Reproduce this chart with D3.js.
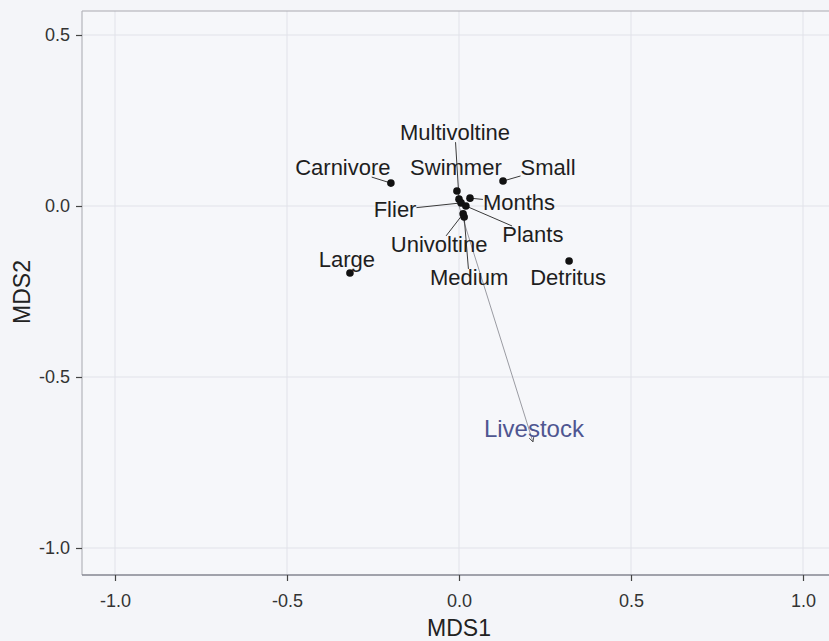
<!DOCTYPE html>
<html>
<head>
<meta charset="utf-8">
<script src="https://cdn.jsdelivr.net/npm/d3@7"></script>
<style>
  html, body { margin: 0; padding: 0; background: #f4f5f9; }
  svg { display: block; font-family: "Liberation Sans", Arial, sans-serif; }
</style>
</head>
<body>
<svg id="chart" width="829" height="641"></svg>
<script>
// NMDS species-trait scores
const traits = ["Multivoltine", "Carnivore", "Swimmer", "Small", "Months", "Flier",
                "Plants", "Univoltine", "Large", "Medium", "Detritus"];
const mds1 = [0.000, -0.198, -0.006, 0.128, 0.032, 0.006, 0.020, 0.012, -0.317, 0.015, 0.320];
const mds2 = [0.020, 0.067, 0.044, 0.073, 0.023, 0.009, 0.000, -0.023, -0.196, -0.032, -0.161];

// Environmental vector
const envName = ["Livestock"];
const envMds1 = [0.215];
const envMds2 = [-0.690];

// Tick values
const xTicks = [-1.0, -0.5, 0.0, 0.5, 1.0];
const yTicks = [0.5, 0.0, -0.5, -1.0];

// Repelled label placement (pixel offsets from each point) and leader-line flags
const labelDx = [-4, -48, -1, 45, 49, -66, 67, -24, -3, 5, -1];
const labelDy = [-59, -8, -16, -6, 12, 14, 36, 38, -6, 68, 24];
const hasLeader = [true, true, false, true, true, true, true, true, false, true, false];

const svg = d3.select("#chart");
const fmt = d => d.toFixed(1);

const x = d3.scaleLinear().domain([-1, 1]).range([115, 803]);
const y = d3.scaleLinear().domain([-1, 0.5]).range([548, 35]);

const panel = { left: 82, top: 11, bottom: 575, right: 845 };

// panel background
svg.append("rect")
  .attr("x", panel.left).attr("y", panel.top)
  .attr("width", panel.right - panel.left).attr("height", panel.bottom - panel.top)
  .attr("fill", "#f6f7fa");

// grid
const grid = svg.append("g").attr("stroke", "#e1e2e9").attr("stroke-width", 1);
grid.selectAll("line.vx").data(xTicks).join("line").attr("class", "vx")
  .attr("x1", d => x(d)).attr("x2", d => x(d))
  .attr("y1", panel.top).attr("y2", panel.bottom);
grid.selectAll("line.hy").data(yTicks).join("line").attr("class", "hy")
  .attr("y1", d => y(d)).attr("y2", d => y(d))
  .attr("x1", panel.left).attr("x2", panel.right);

// panel border
svg.append("line").attr("x1", panel.left).attr("x2", panel.right)
  .attr("y1", panel.top).attr("y2", panel.top).attr("stroke", "#a9aab0").attr("stroke-width", 1.2);
svg.append("line").attr("x1", panel.left).attr("x2", panel.left)
  .attr("y1", panel.top).attr("y2", panel.bottom).attr("stroke", "#b4b5bb").attr("stroke-width", 1.2);
svg.append("line").attr("x1", panel.left).attr("x2", panel.right)
  .attr("y1", panel.bottom).attr("y2", panel.bottom).attr("stroke", "#858690").attr("stroke-width", 1.4);

// axes
const xAxis = d3.axisBottom(x).tickValues(xTicks).tickFormat(fmt)
  .tickSize(6).tickPadding(13);
const gx = svg.append("g").attr("transform", `translate(0,${panel.bottom})`).call(xAxis);
gx.select(".domain").remove();
gx.selectAll(".tick line").attr("stroke", "#444").attr("stroke-width", 1.2);
gx.selectAll(".tick text").attr("fill", "#333").attr("font-size", 18)
  .attr("font-family", "Liberation Sans, Arial, sans-serif");

const yAxis = d3.axisLeft(y).tickValues(yTicks).tickFormat(fmt)
  .tickSize(6).tickPadding(6);
const gy = svg.append("g").attr("transform", `translate(${panel.left},0)`).call(yAxis);
gy.select(".domain").remove();
gy.selectAll(".tick line").attr("stroke", "#444").attr("stroke-width", 1.2);
gy.selectAll(".tick text").attr("fill", "#333").attr("font-size", 18)
  .attr("font-family", "Liberation Sans, Arial, sans-serif");

// axis titles
svg.append("text").attr("x", 459).attr("y", 636).attr("text-anchor", "middle")
  .attr("font-size", 23).attr("fill", "#222").text("MDS1");
svg.append("text").attr("transform", "translate(30,292) rotate(-90)")
  .attr("text-anchor", "middle").attr("font-size", 23).attr("fill", "#222").text("MDS2");

// environmental arrow
const defs = svg.append("defs");
defs.append("marker").attr("id", "arrowhead")
  .attr("viewBox", "0 0 10 10").attr("refX", 9).attr("refY", 5)
  .attr("markerWidth", 6).attr("markerHeight", 6).attr("orient", "auto")
  .append("path").attr("d", "M1,1 L9,5 L1,9").attr("fill", "none")
  .attr("stroke", "#555").attr("stroke-width", 1.5);

const env = envName.map((n, i) => ({ name: n, x: envMds1[i], y: envMds2[i] }));
svg.selectAll("line.env").data(env).join("line").attr("class", "env")
  .attr("x1", x(0)).attr("y1", y(0))
  .attr("x2", d => x(d.x)).attr("y2", d => y(d.y))
  .attr("stroke", "#9a9ba2").attr("stroke-width", 1)
  .attr("marker-end", "url(#arrowhead)");
svg.selectAll("text.env").data(env).join("text").attr("class", "env")
  .attr("x", d => x(d.x) + 1).attr("y", d => y(d.y) - 5)
  .attr("text-anchor", "middle").attr("font-size", 24)
  .attr("fill", "#4f5691").text(d => d.name);

// trait points and repelled labels
const pts = traits.map((n, i) => ({
  name: n, x: mds1[i], y: mds2[i], dx: labelDx[i], dy: labelDy[i], leader: hasLeader[i]
}));

const segs = svg.append("g");
const labels = svg.append("g").selectAll("text").data(pts).join("text")
  .attr("x", d => x(d.x) + d.dx)
  .attr("y", d => y(d.y) + d.dy)
  .attr("text-anchor", "middle")
  .attr("font-size", 22)
  .attr("fill", "#1e1e1e")
  .text(d => d.name);

// leader segments from each point to the edge of its label box
labels.each(function (d) {
  if (!d.leader) return;
  const bb = this.getBBox();
  const top = bb.y + 4, bottom = bb.y + bb.height - 3;
  const px = x(d.x), py = y(d.y);
  const cx = bb.x + bb.width / 2, cy = (top + bottom) / 2;
  const vx = cx - px, vy = cy - py;
  let t = 1;
  if (vx !== 0) {
    const edge = vx > 0 ? bb.x : bb.x + bb.width;
    const tt = (edge - px) / vx;
    const yy = py + tt * vy;
    if (tt > 0 && yy >= top && yy <= bottom) t = Math.min(t, tt);
  }
  if (vy !== 0) {
    const edge = vy > 0 ? top : bottom;
    const tt = (edge - py) / vy;
    const xx = px + tt * vx;
    if (tt > 0 && xx >= bb.x && xx <= bb.x + bb.width) t = Math.min(t, tt);
  }
  segs.append("line")
    .attr("x1", px).attr("y1", py)
    .attr("x2", px + t * vx).attr("y2", py + t * vy)
    .attr("stroke", "#3a3a3a").attr("stroke-width", 1);
});

svg.append("g").selectAll("circle").data(pts).join("circle")
  .attr("cx", d => x(d.x)).attr("cy", d => y(d.y))
  .attr("r", 3.8).attr("fill", "#111");
</script>
</body>
</html>
